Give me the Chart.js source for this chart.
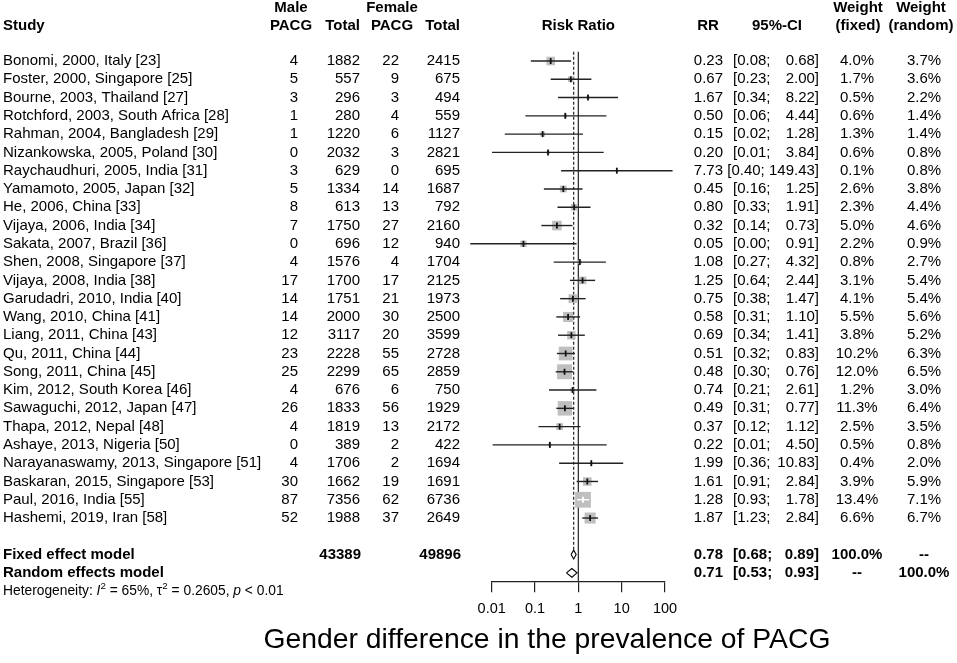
<!DOCTYPE html>
<html>
<head>
<meta charset="utf-8">
<title>Gender difference in the prevalence of PACG</title>
<script src="https://cdn.jsdelivr.net/npm/chart.js@4.4.0/dist/chart.umd.min.js"></script>
<style>
  html, body { margin: 0; padding: 0; background: #fff; }
  #wrap { width: 957px; height: 663px; position: relative; }
</style>
</head>
<body>
<div id="wrap"><canvas id="forest"></canvas></div>
<script>
// study level data
const studies = [
  "Bonomi, 2000, Italy [23]", "Foster, 2000, Singapore [25]", "Bourne, 2003, Thailand [27]",
  "Rotchford, 2003, South Africa [28]", "Rahman, 2004, Bangladesh [29]", "Nizankowska, 2005, Poland [30]",
  "Raychaudhuri, 2005, India [31]", "Yamamoto, 2005, Japan [32]", "He, 2006, China [33]",
  "Vijaya, 2006, India [34]", "Sakata, 2007, Brazil [36]", "Shen, 2008, Singapore [37]",
  "Vijaya, 2008, India [38]", "Garudadri, 2010, India [40]", "Wang, 2010, China [41]",
  "Liang, 2011, China [43]", "Qu, 2011, China [44]", "Song, 2011, China [45]",
  "Kim, 2012, South Korea [46]", "Sawaguchi, 2012, Japan [47]", "Thapa, 2012, Nepal [48]",
  "Ashaye, 2013, Nigeria [50]", "Narayanaswamy, 2013, Singapore [51]", "Baskaran, 2015, Singapore [53]",
  "Paul, 2016, India [55]", "Hashemi, 2019, Iran [58]"
];
const malePacg    = [4, 5, 3, 1, 1, 0, 3, 5, 8, 7, 0, 4, 17, 14, 14, 12, 23, 25, 4, 26, 4, 0, 4, 30, 87, 52];
const maleTotal   = [1882, 557, 296, 280, 1220, 2032, 629, 1334, 613, 1750, 696, 1576, 1700, 1751, 2000, 3117, 2228, 2299, 676, 1833, 1819, 389, 1706, 1662, 7356, 1988];
const femalePacg  = [22, 9, 3, 4, 6, 3, 0, 14, 13, 27, 12, 4, 17, 21, 30, 20, 55, 65, 6, 56, 13, 2, 2, 19, 62, 37];
const femaleTotal = [2415, 675, 494, 559, 1127, 2821, 695, 1687, 792, 2160, 940, 1704, 2125, 1973, 2500, 3599, 2728, 2859, 750, 1929, 2172, 422, 1694, 1691, 6736, 2649];
const riskRatio   = [0.23, 0.67, 1.67, 0.50, 0.15, 0.20, 7.73, 0.45, 0.80, 0.32, 0.054, 1.08, 1.25, 0.75, 0.58, 0.69, 0.51, 0.48, 0.74, 0.49, 0.37, 0.22, 1.99, 1.61, 1.28, 1.87];
const ciLower     = [0.08, 0.23, 0.34, 0.06, 0.02, 0.0102, 0.40, 0.16, 0.33, 0.14, 0.0032, 0.27, 0.64, 0.38, 0.31, 0.34, 0.32, 0.30, 0.21, 0.31, 0.12, 0.0105, 0.36, 0.91, 0.93, 1.23];
const ciUpper     = [0.68, 2.00, 8.22, 4.44, 1.28, 3.84, 149.43, 1.25, 1.91, 0.73, 0.91, 4.32, 2.44, 1.47, 1.10, 1.41, 0.83, 0.76, 2.61, 0.77, 1.12, 4.50, 10.83, 2.84, 1.78, 2.84];
const weightFixed  = [4.0, 1.7, 0.5, 0.6, 1.3, 0.6, 0.1, 2.6, 2.3, 5.0, 2.2, 0.8, 3.1, 4.1, 5.5, 3.8, 10.2, 12.0, 1.2, 11.3, 2.5, 0.5, 0.4, 3.9, 13.4, 6.6];
const weightRandom = [3.7, 3.6, 2.2, 1.4, 1.4, 0.8, 0.8, 3.8, 4.4, 4.6, 0.9, 2.7, 5.4, 5.4, 5.6, 5.2, 6.3, 6.5, 3.0, 6.4, 3.5, 0.8, 2.0, 5.9, 7.1, 6.7];

// pooled estimates
const modelLabels   = ["Fixed effect model", "Random effects model"];
const modelRR       = [0.78, 0.71];
const modelLower    = [0.68, 0.53];
const modelUpper    = [0.89, 0.93];
const modelWFixed   = ["100.0%", "--"];
const modelWRandom  = ["--", "100.0%"];
const pooledTotals  = [43389, 49896];
const axisTicks     = [0.01, 0.1, 1, 10, 100];

// row layout (in rows of the y scale)
const HEAD1_ROW = -2.88, HEAD2_ROW = -1.9;
const FIXED_ROW = 27, RANDOM_ROW = 28, HET_ROW = 29, AXIS_ROW = 28.5;
const FONT = "'Liberation Sans', Arial, Helvetica, sans-serif";

function squareSide(i) { return 4.3 * Math.sqrt(weightFixed[i]); }
function ciInside(chart, i) {
  const xs = chart.scales.x;
  if (!xs || !chart.chartArea) return false;
  return xs.getPixelForValue(ciUpper[i]) - xs.getPixelForValue(ciLower[i]) < squareSide(i);
}

const ciSets = studies.map((s, i) => ({
  type: "line",
  data: [{ x: ciLower[i], y: i }, { x: ciUpper[i], y: i }],
  borderColor: (c) => ciInside(c.chart, i) ? "#ffffff" : "#222222",
  borderWidth: 1.4,
  pointRadius: 0,
  clip: false,
  order: 2
}));

function diamond(k, row) {
  return {
    type: "line",
    data: [
      { x: modelLower[k], y: row }, { x: modelRR[k], y: row - 0.24 },
      { x: modelUpper[k], y: row }, { x: modelRR[k], y: row + 0.24 },
      { x: modelLower[k], y: row }
    ],
    borderColor: "#000",
    backgroundColor: "#fff",
    fill: "shape",
    borderWidth: 1.1,
    pointRadius: 0,
    tension: 0,
    clip: false,
    order: 0
  };
}

const textPlugin = {
  id: "forestText",
  afterDraw(chart) {
    const ctx = chart.ctx;
    const ys = chart.scales.y, xs = chart.scales.x;
    const yAt = (r) => ys.getPixelForValue(r);
    const setFont = (bold, size) => { ctx.font = (bold ? "bold " : "") + (size || 15) + "px " + FONT; };
    const put = (s, x, r, align, bold, size) => {
      setFont(bold, size);
      ctx.textAlign = align;
      ctx.fillText(String(s), x, yAt(r));
    };
    // "[lo;" starts at 733, "hi]" ends at 819; long ones are right aligned as a whole
    const putCI = (lo, hi, r, bold) => {
      setFont(bold);
      const a = "[" + lo.toFixed(2) + ";", b = hi.toFixed(2) + "]";
      const need = ctx.measureText(a + " " + b).width;
      if (733 + need > 819) {
        put(a + " " + b, 819, r, "right", bold);
      } else {
        put(a, 733, r, "left", bold);
        put(b, 819, r, "right", bold);
      }
    };
    ctx.save();
    ctx.fillStyle = "#000";
    ctx.textBaseline = "middle";

    // headers
    put("Study", 3, HEAD2_ROW, "left", true);
    put("Male", 291, HEAD1_ROW, "center", true);
    put("PACG", 291, HEAD2_ROW, "center", true);
    put("Total", 360, HEAD2_ROW, "right", true);
    put("Female", 392, HEAD1_ROW, "center", true);
    put("PACG", 392, HEAD2_ROW, "center", true);
    put("Total", 460, HEAD2_ROW, "right", true);
    put("Risk Ratio", xs.getPixelForValue(1), HEAD2_ROW, "center", true);
    put("RR", 708, HEAD2_ROW, "center", true);
    put("95%-CI", 777, HEAD2_ROW, "center", true);
    put("Weight", 858, HEAD1_ROW, "center", true);
    put("(fixed)", 858, HEAD2_ROW, "center", true);
    put("Weight", 921, HEAD1_ROW, "center", true);
    put("(random)", 921, HEAD2_ROW, "center", true);

    // study rows
    studies.forEach((s, i) => {
      put(s, 3, i, "left");
      put(malePacg[i], 298, i, "right");
      put(maleTotal[i], 360, i, "right");
      put(femalePacg[i], 399, i, "right");
      put(femaleTotal[i], 460, i, "right");
      put(riskRatio[i].toFixed(2), 723, i, "right");
      putCI(ciLower[i], ciUpper[i], i, false);
      put(weightFixed[i].toFixed(1) + "%", 857, i, "center");
      put(weightRandom[i].toFixed(1) + "%", 924, i, "center");
    });

    // pooled rows
    [FIXED_ROW, RANDOM_ROW].forEach((row, k) => {
      put(modelLabels[k], 3, row, "left", true);
      if (k === 0) {
        put(pooledTotals[0], 361, row, "right", true);
        put(pooledTotals[1], 461, row, "right", true);
      }
      put(modelRR[k].toFixed(2), 723, row, "right", true);
      putCI(modelLower[k], modelUpper[k], row, true);
      put(modelWFixed[k], 857, row, "center", true);
      put(modelWRandom[k], 924, row, "center", true);
    });

    // heterogeneity line with superscripts
    const hy = yAt(HET_ROW);
    let hx = 3;
    const seg = (s, style, size, dy) => {
      ctx.font = style + size + "px " + FONT;
      ctx.textAlign = "left";
      ctx.fillText(s, hx, hy + (dy || 0));
      hx += ctx.measureText(s).width;
    };
    seg("Heterogeneity: ", "", 13.8);
    seg("I", "italic ", 13.8);
    seg("2", "", 9.8, -5);
    seg(" = 65%, \u03c4", "", 13.8);
    seg("2", "", 9.8, -5);
    seg(" = 0.2605, ", "", 13.8);
    seg("p", "italic ", 13.8);
    seg(" < 0.01", "", 13.8);

    // axis title
    ctx.font = "28.3px " + FONT;
    ctx.textAlign = "center";
    ctx.fillText("Gender difference in the prevalence of PACG", 547, 640);
    ctx.restore();
  }
};

new Chart(document.getElementById("forest"), {
  data: {
    datasets: [
      {
        type: "scatter",
        data: studies.map((s, i) => ({ x: riskRatio[i], y: i })),
        pointStyle: "line",
        rotation: 90,
        pointRadius: 3,
        pointBorderWidth: 1.8,
        pointBorderColor: (c) => ciInside(c.chart, c.dataIndex) ? "#ffffff" : "#111111",
        clip: false,
        order: 1
      },
      ...ciSets,
      {
        type: "scatter",
        data: studies.map((s, i) => ({ x: riskRatio[i], y: i })),
        pointStyle: "rect",
        pointRadius: (c) => squareSide(c.dataIndex) / Math.SQRT2,
        pointBackgroundColor: "#bfbfbf",
        pointBorderWidth: 0,
        clip: false,
        order: 3
      },
      diamond(0, FIXED_ROW),
      diamond(1, RANDOM_ROW),
      {
        type: "line",
        data: [{ x: 1, y: -0.5 }, { x: 1, y: AXIS_ROW }],
        borderColor: "#333",
        borderWidth: 1.3,
        pointRadius: 0,
        order: 5
      },
      {
        type: "line",
        data: [{ x: modelRR[0], y: -0.5 }, { x: modelRR[0], y: FIXED_ROW - 0.25 }],
        borderColor: "#222",
        borderWidth: 1.2,
        borderDash: [3, 2],
        pointRadius: 0,
        order: 5
      }
    ]
  },
  options: {
    responsive: true,
    maintainAspectRatio: false,
    animation: false,
    events: [],
    layout: { autoPadding: false, padding: { left: 491.7, right: 292, top: 0, bottom: 0 } },
    plugins: { legend: { display: false }, tooltip: { enabled: false } },
    scales: {
      x: {
        type: "logarithmic",
        min: 0.01,
        max: 100,
        position: { y: AXIS_ROW },
        afterBuildTicks: (scale) => { scale.ticks = axisTicks.map((v) => ({ value: v })); },
        grid: { display: true, drawOnChartArea: false, drawTicks: true, tickLength: 10, color: "#222", lineWidth: 1.2 },
        border: { display: true, color: "#222", width: 1.2 },
        ticks: {
          autoSkip: false,
          maxRotation: 0,
          padding: 8,
          color: "#000",
          font: { family: FONT, size: 14.5 },
          callback: (v) => String(v)
        }
      },
      y: {
        type: "linear",
        reverse: true,
        min: -3.337,
        max: 32.93,
        display: false
      }
    }
  },
  plugins: [textPlugin]
});
</script>
</body>
</html>
